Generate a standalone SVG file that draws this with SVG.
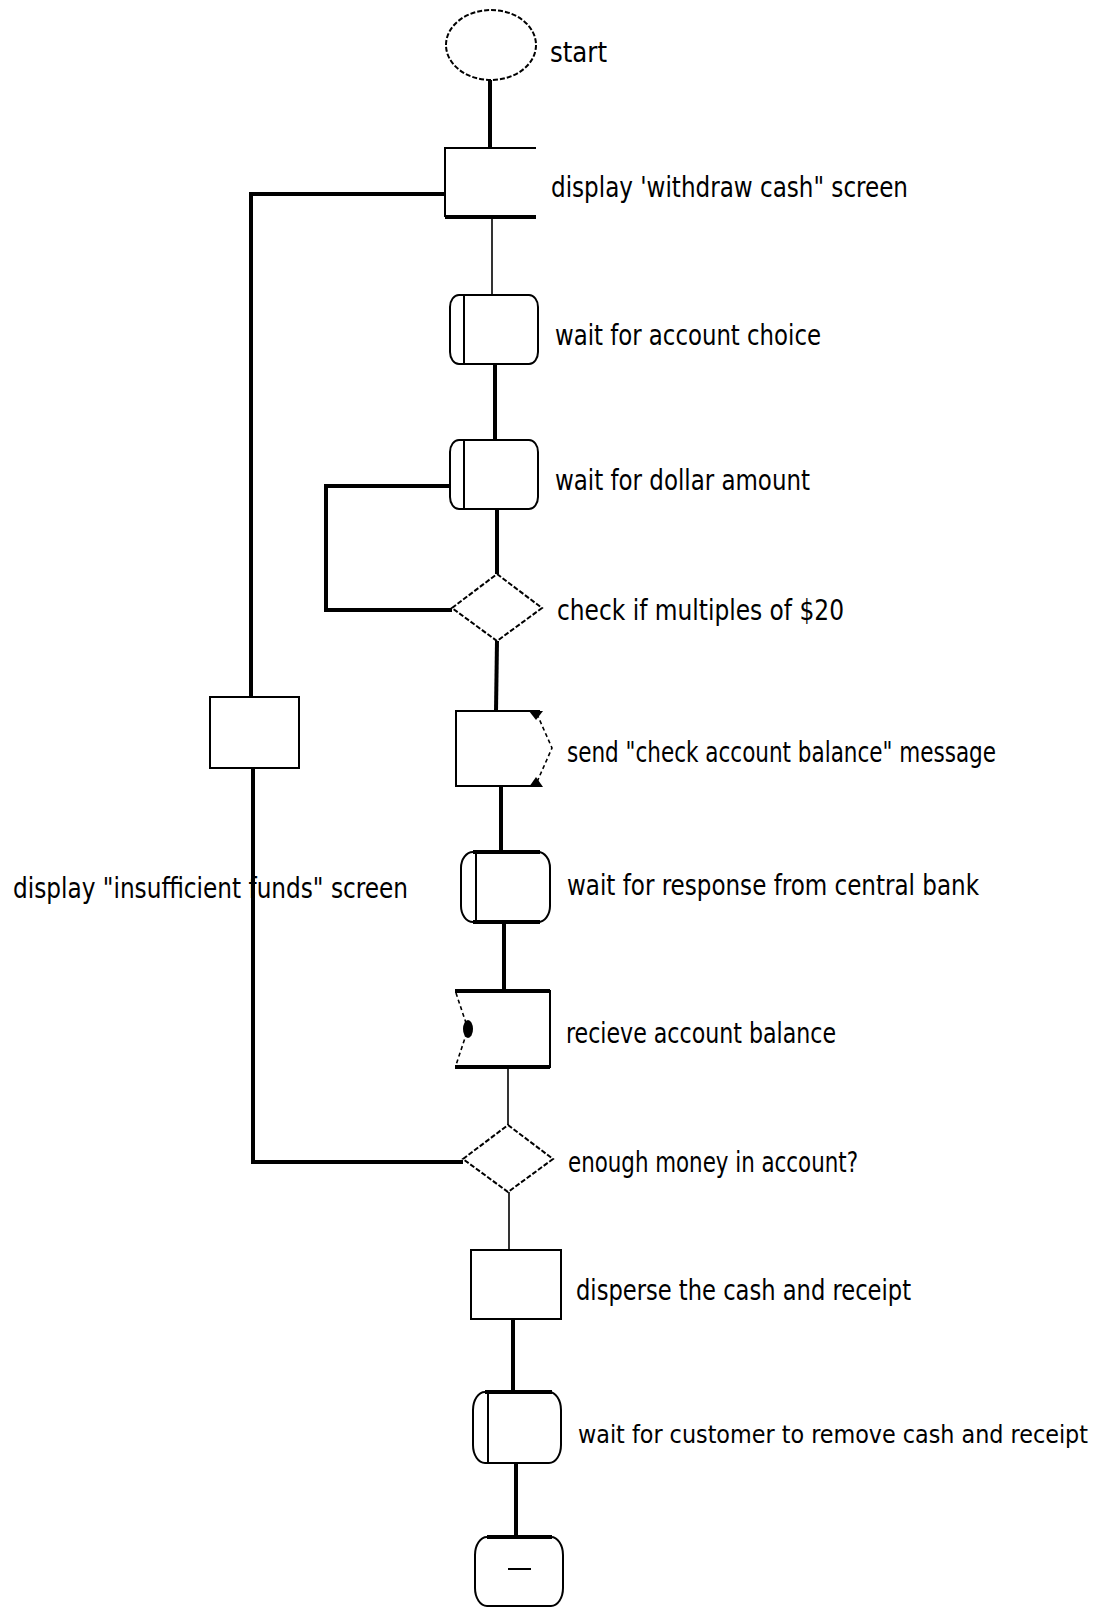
<svg xmlns="http://www.w3.org/2000/svg" width="1109" height="1608" viewBox="0 0 1109 1608">
  <style>
    .bg { fill: #ffffff; }
    .shape { fill: #ffffff; stroke: #000000; stroke-width: 2; }
    .dotted { fill: #ffffff; stroke: #000000; stroke-width: 2; stroke-dasharray: 5 2; }
    .edge { fill: none; stroke: #000000; stroke-width: 2; }
    .thick { fill: none; stroke: #000000; stroke-width: 4; }
    .thin { fill: none; stroke: #000000; stroke-width: 1.6; }
    .solid { fill: #000000; stroke: none; }
    text { font-family: "Liberation Sans Narrow", "DejaVu Sans Condensed", "Liberation Sans", sans-serif; font-size: 28px; fill: #000000; }
    text.long { font-size: 25.5px; }
  </style>
  <rect class="bg" x="0" y="0" width="1109" height="1608"/>

  <!-- connectors -->
  <g id="connectors">
    <line class="thick" x1="490" y1="80" x2="490" y2="148"/>
    <line class="thin" x1="492" y1="217" x2="492" y2="295"/>
    <line class="thick" x1="495" y1="364" x2="495" y2="440"/>
    <line class="thick" x1="497" y1="509" x2="497" y2="574"/>
    <polyline class="thick" points="450,486 326,486 326,610 452,610"/>
    <line class="thick" x1="497" y1="641" x2="496" y2="711"/>
    <line class="thick" x1="501" y1="786" x2="501" y2="852"/>
    <line class="thick" x1="504" y1="922" x2="504" y2="991"/>
    <line class="thin" x1="508" y1="1067" x2="508" y2="1125"/>
    <line class="thin" x1="509" y1="1192" x2="509" y2="1250"/>
    <line class="thick" x1="513" y1="1319" x2="513" y2="1392"/>
    <line class="thick" x1="516" y1="1463" x2="516" y2="1537"/>
    <!-- retry path back to the withdraw screen -->
    <polyline class="thick" points="445,194 251,194 251,697"/>
    <polyline class="thick" points="253,768 253,1162 463,1162"/>
  </g>

  <g id="start">
    <ellipse class="dotted" cx="491" cy="45" rx="45" ry="35"/>
    <text x="550" y="62" textLength="57" lengthAdjust="spacingAndGlyphs">start</text>
  </g>

  <g id="display-withdraw">
    <polyline class="edge" points="536,148 445,148 445,217"/>
    <line class="thick" x1="445" y1="217" x2="536" y2="217"/>
    <text x="551" y="197" textLength="357" lengthAdjust="spacingAndGlyphs">display 'withdraw cash" screen</text>
  </g>

  <g id="wait-account">
    <rect class="shape" x="450" y="295" width="88" height="69" rx="9" ry="12"/>
    <line class="edge" x1="464" y1="295" x2="464" y2="364"/>
    <text x="555" y="345" textLength="266" lengthAdjust="spacingAndGlyphs">wait for account choice</text>
  </g>

  <g id="wait-amount">
    <rect class="shape" x="450" y="440" width="88" height="69" rx="9" ry="12"/>
    <line class="edge" x1="464" y1="440" x2="464" y2="509"/>
    <text x="555" y="490" textLength="255" lengthAdjust="spacingAndGlyphs">wait for dollar amount</text>
  </g>

  <g id="check-multiple">
    <polygon class="dotted" points="497,574 542,608 497,641 452,608"/>
    <text x="557" y="620" textLength="287" lengthAdjust="spacingAndGlyphs">check if multiples of $20</text>
  </g>

  <g id="send-message">
    <polyline class="edge" points="540,711 456,711 456,786 540,786"/>
    <polyline class="thin" stroke-dasharray="4 3" points="537,714 552,748 537,782"/>
    <polygon class="solid" points="529,711 543,711 536,720"/>
    <polygon class="solid" points="529,787 543,787 536,777"/>
    <text x="567" y="762" textLength="429" lengthAdjust="spacingAndGlyphs">send "check account balance" message</text>
  </g>

  <g id="insufficient-funds">
    <rect class="shape" x="210" y="697" width="89" height="71"/>
    <text x="13" y="898" textLength="395" lengthAdjust="spacingAndGlyphs">display "insufficient funds" screen</text>
  </g>

  <g id="wait-response">
    <rect class="shape" x="461" y="852" width="89" height="70" rx="12" ry="16"/>
    <line class="edge" x1="476" y1="852" x2="476" y2="922"/>
    <line class="thick" x1="473" y1="852" x2="540" y2="852"/>
    <line class="thick" x1="473" y1="922" x2="540" y2="922"/>
    <text x="567" y="895" textLength="412" lengthAdjust="spacingAndGlyphs">wait for response from central bank</text>
  </g>

  <g id="receive-balance">
    <polyline class="edge" points="455,991 550,991 550,1067 455,1067"/>
    <line class="thick" x1="455" y1="991" x2="550" y2="991"/>
    <line class="thick" x1="455" y1="1067" x2="550" y2="1067"/>
    <polyline class="thin" stroke-dasharray="4 3" points="456,993 468,1029 456,1065"/>
    <ellipse class="solid" cx="468" cy="1029" rx="5" ry="9"/>
    <text x="566" y="1043" textLength="270" lengthAdjust="spacingAndGlyphs">recieve account balance</text>
  </g>

  <g id="enough-money">
    <polygon class="dotted" points="508,1125 553,1159 508,1192 463,1159"/>
    <text x="568" y="1172" textLength="290" lengthAdjust="spacingAndGlyphs">enough money in account?</text>
  </g>

  <g id="disperse-cash">
    <rect class="shape" x="471" y="1250" width="90" height="69"/>
    <text x="576" y="1300" textLength="335" lengthAdjust="spacingAndGlyphs">disperse the cash and receipt</text>
  </g>

  <g id="wait-customer">
    <rect class="shape" x="473" y="1392" width="88" height="71" rx="12" ry="18"/>
    <line class="edge" x1="488" y1="1392" x2="488" y2="1463"/>
    <line class="thick" x1="485" y1="1392" x2="552" y2="1392"/>
    <text class="long" x="578" y="1443" textLength="510" lengthAdjust="spacingAndGlyphs">wait for customer to remove cash and receipt</text>
  </g>

  <g id="end">
    <rect class="shape" x="475" y="1537" width="88" height="69" rx="12" ry="18"/>
    <line class="thick" x1="487" y1="1537" x2="552" y2="1537"/>
    <line class="edge" x1="508" y1="1569" x2="531" y2="1569"/>
  </g>
</svg>
